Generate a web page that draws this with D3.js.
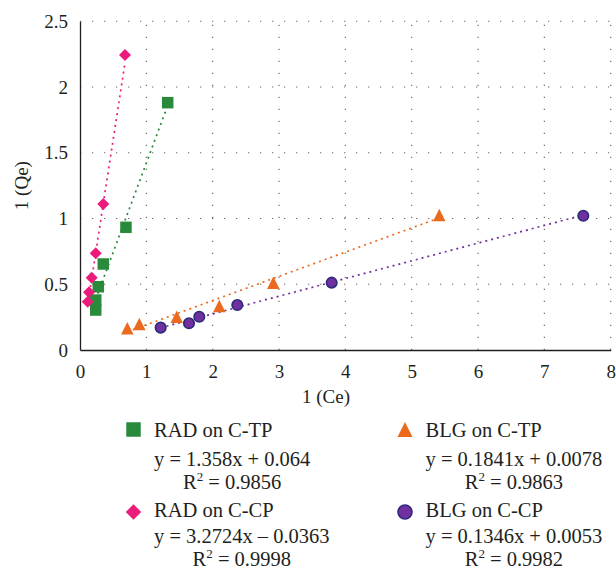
<!DOCTYPE html>
<html>
<head>
<meta charset="utf-8">
<script src="https://cdn.jsdelivr.net/npm/d3@7"></script>
<style>
  body { margin: 0; background: #fff; }
  svg text { font-family: "Liberation Serif", "Times New Roman", serif; fill: #231f20; }
</style>
</head>
<body>
<script>
// values: x = 1/Ce, y = 1/Qe
let radCtpX = [0.237, 0.237, 0.276, 0.351, 0.693, 1.322];
let radCtpY = [0.304, 0.380, 0.481, 0.654, 0.933, 1.881];
let radCcpX = [0.116, 0.136, 0.176, 0.237, 0.351, 0.678];
let radCcpY = [0.367, 0.439, 0.550, 0.735, 1.110, 2.243];
let blgCtpX = [0.713, 0.894, 1.458, 2.100, 2.914, 5.416];
let blgCtpY = [0.165, 0.198, 0.253, 0.335, 0.512, 1.027];
let blgCcpX = [1.216, 1.643, 1.798, 2.371, 3.794, 7.587];
let blgCcpY = [0.170, 0.203, 0.253, 0.342, 0.512, 1.021];

let seriesNames = ["RAD on C-TP", "BLG on C-TP", "RAD on C-CP", "BLG on C-CP"];
let slopes = [1.358, 0.1841, 3.2724, 0.1346];
let intercepts = [0.064, 0.0078, -0.0363, 0.0053];
let eqLabels = ["y = 1.358x + 0.064", "y = 0.1841x + 0.0078", "y = 3.2724x \u2013 0.0363", "y = 0.1346x + 0.0053"];
let r2Labels = ["0.9856", "0.9863", "0.9998", "0.9982"];

let xTicks = [0, 1, 2, 3, 4, 5, 6, 7, 8];
let yTicks = [0, 0.5, 1, 1.5, 2, 2.5];

let colors = ["#2a8a3c", "#ec6a1e", "#ec1a7b", "#7030a0"];
let shapes = ["square", "triangle", "diamond", "circle"];

let series = [
    {x: radCtpX, y: radCtpY},
    {x: blgCtpX, y: blgCtpY},
    {x: radCcpX, y: radCcpY},
    {x: blgCcpX, y: blgCcpY}
];
series.forEach((s, i) => {
    s.name = seriesNames[i];
    s.color = colors[i];
    s.shape = shapes[i];
    s.slope = slopes[i];
    s.b = intercepts[i];
    s.points = s.x.map((v, j) => ({x: v, y: s.y[j]}));
});

let W = 616, H = 571;
let margin = {top: 21.25, left: 80, right: 5.3, bottom: 221};
let width = W - margin.left - margin.right,
    height = H - margin.top - margin.bottom;

let svg = d3.select("body").append("svg")
    .attr("width", W)
    .attr("height", H);

let g = svg.append("g")
    .attr("transform", "translate(" + margin.left + "," + margin.top + ")");

let x = d3.scaleLinear().domain([0, 8]).range([0, width]);
let y = d3.scaleLinear().domain([0, 2.5]).range([height, 0]);

// dotted grid
g.selectAll(".hgrid")
    .data(yTicks.filter(d => d > 0))
    .enter().append("line")
    .attr("x1", 0).attr("x2", width)
    .attr("y1", d => y(d)).attr("y2", d => y(d))
    .attr("stroke", "#6d6d6d")
    .attr("stroke-width", 1.2)
    .attr("stroke-dasharray", "1.3,10.7");

g.selectAll(".vgrid")
    .data(xTicks.filter(d => d > 0))
    .enter().append("line")
    .attr("x1", d => x(d)).attr("x2", d => x(d))
    .attr("y1", height).attr("y2", 0)
    .attr("stroke", "#6d6d6d")
    .attr("stroke-width", 1.2)
    .attr("stroke-dasharray", "1.3,10.7");

// axes
let xAxis = d3.axisBottom(x).tickValues(xTicks).tickSize(0).tickPadding(15).tickFormat(d => String(d));
let yAxis = d3.axisLeft(y).tickValues(yTicks).tickSize(0).tickPadding(12).tickFormat(d => String(d));

let gx = g.append("g")
    .attr("transform", "translate(0," + height + ")")
    .call(xAxis);
let gy = g.append("g").call(yAxis);

[gx, gy].forEach(a => {
    a.select(".domain").attr("stroke", "#231f20").attr("stroke-width", 1.3);
    a.selectAll("text")
        .style("font-family", "'Liberation Serif', serif")
        .style("font-size", "19px")
        .attr("fill", "#231f20");
});

// axis titles
svg.append("text")
    .attr("x", 326)
    .attr("y", 403)
    .attr("text-anchor", "middle")
    .style("font-size", "19px")
    .text("1 (Ce)");

svg.append("text")
    .attr("transform", "translate(28," + (margin.top + height / 2) + ") rotate(-90)")
    .attr("text-anchor", "middle")
    .style("font-size", "19px")
    .text("1 (Qe)");

// trend lines
series.forEach(s => {
    let x0 = d3.min(s.x), x1 = d3.max(s.x);
    g.append("line")
        .attr("x1", x(x0)).attr("y1", y(s.slope * x0 + s.b))
        .attr("x2", x(x1)).attr("y2", y(s.slope * x1 + s.b))
        .attr("stroke", s.color)
        .attr("stroke-width", 1.7)
        .attr("stroke-dasharray", "2,4");
});

// marker paths
function markerPath(shape, size) {
    let h = size / 2;
    if (shape == "square") return "M" + (-h) + "," + (-h) + "h" + size + "v" + size + "h" + (-size) + "Z";
    if (shape == "diamond") return "M0," + (-h) + "L" + h + ",0L0," + h + "L" + (-h) + ",0Z";
    if (shape == "triangle") return "M0," + (-h) + "L" + h + "," + h + "L" + (-h) + "," + h + "Z";
    return null;
}

function drawMarker(sel, s, size) {
    if (s.shape == "circle") {
        sel.append("circle")
            .attr("r", size / 2)
            .attr("fill", s.color)
            .attr("stroke", "#2b2c7a")
            .attr("stroke-width", 1.6);
    } else {
        sel.append("path")
            .attr("d", markerPath(s.shape, size))
            .attr("fill", s.color);
    }
}

let drawOrder = [0, 2, 1, 3];
drawOrder.forEach(i => {
    let s = series[i];
    let sizes = {square: 11.5, diamond: 12, triangle: 12.5, circle: 10.5};
    g.selectAll(".pt" + i)
        .data(s.points)
        .enter().append("g")
        .attr("transform", d => "translate(" + x(d.x) + "," + y(d.y) + ")")
        .each(function() { drawMarker(d3.select(this), s, sizes[s.shape]); });
});

// legend: marker centre, then title / equation / R² baselines per row
let legCols = [133.5, 405];
let legRows = [429.5, 512];
let legBase = [[437, 466, 489], [517, 543, 566]];
let legSizes = {square: 14.5, diamond: 15.5, triangle: 15, circle: 14};
series.forEach((s, i) => {
    let row = Math.floor(i / 2);
    let cx = legCols[i % 2], cy = legRows[row];
    let lg = svg.append("g");
    drawMarker(lg.append("g").attr("transform", "translate(" + cx + "," + cy + ")"), s, legSizes[s.shape]);

    let tx = cx + 20.5;
    lg.append("text")
        .attr("x", tx).attr("y", legBase[row][0])
        .style("font-size", "20.5px")
        .text(s.name);

    let eq = lg.append("text")
        .attr("x", tx).attr("y", legBase[row][1])
        .style("font-size", "20.5px")
        .text(eqLabels[i]);
    let eqW = eq.node().getComputedTextLength();

    let r2 = lg.append("text")
        .attr("x", tx + eqW / 2).attr("y", legBase[row][2])
        .attr("text-anchor", "middle")
        .style("font-size", "20.5px");
    r2.append("tspan").text("R");
    r2.append("tspan").attr("dy", -8).style("font-size", "13px").text("2");
    r2.append("tspan").attr("dy", 8).text(" = " + r2Labels[i]);
});
</script>
</body>
</html>
